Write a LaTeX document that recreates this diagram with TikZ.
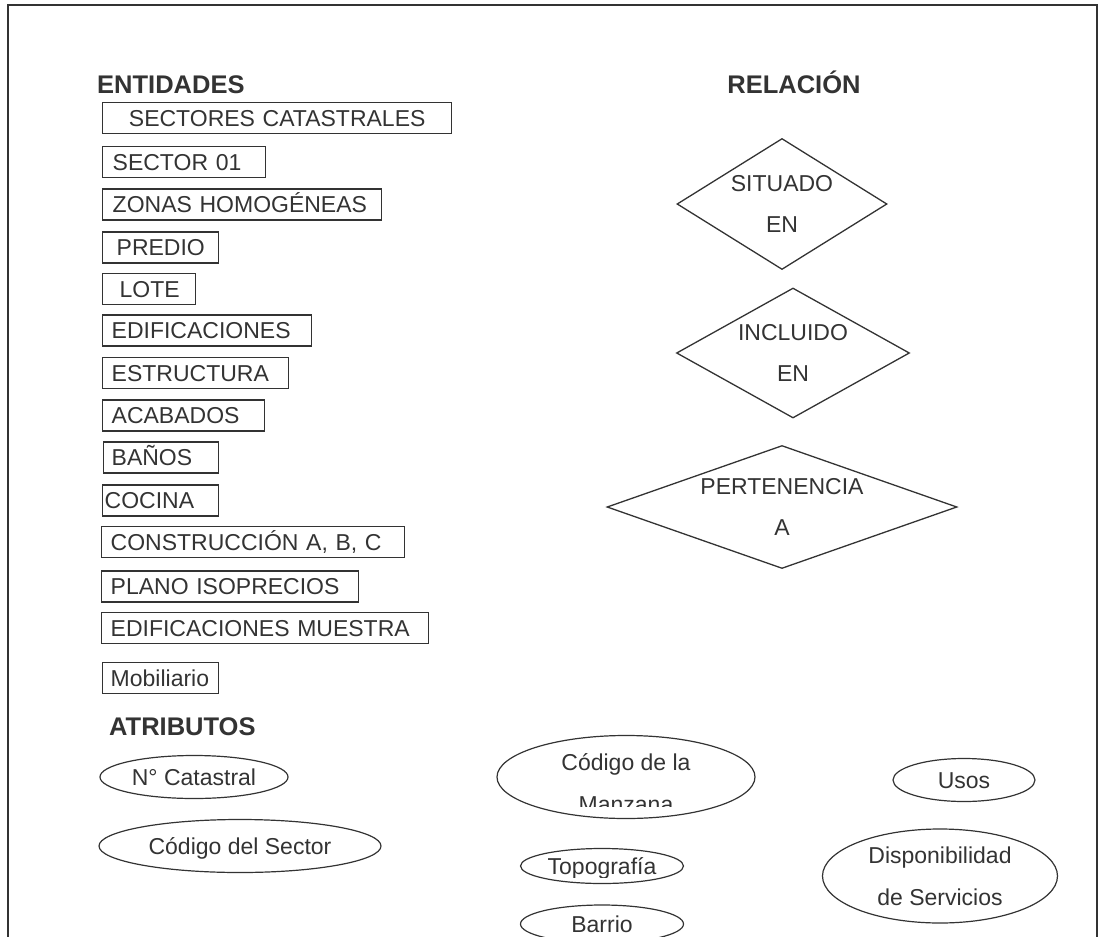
\documentclass[tikz,border=0pt]{standalone}
\usepackage{fontspec}
\setmainfont{Liberation Sans}
\usetikzlibrary{shapes.geometric}

\definecolor{ink}{RGB}{51,51,51}

\tikzset{
  ent/.style={draw=ink, line width=1.4pt, anchor=west, align=left,
    inner xsep=9pt, inner ysep=0pt, minimum height=31pt,
    text height=16pt, text depth=0pt, font=\fontsize{23}{27}\selectfont},
  rel/.style={draw=ink, line width=1.3pt, diamond, inner sep=0pt,
    align=center, font=\fontsize{23}{41}\selectfont},
  atr/.style={draw=ink, line width=1.2pt, ellipse, inner sep=0pt,
    align=center, font=\fontsize{23}{42}\selectfont},
  oneline/.style={text height=16pt, text depth=0pt},
  head/.style={inner sep=0pt, text height=18.3pt, text depth=0pt,
    font=\fontsize{25.5}{30}\selectfont\bfseries},
}

\begin{document}
\begin{tikzpicture}[x=1pt, y=-1pt, text=ink]

  \useasboundingbox (0,0) rectangle (1101,937);
  \draw[ink, line width=1.8pt] (8,945) -- (8,5) -- (1097,5) -- (1097,945);

  %% titulos
  \node[head, anchor=west] (tent) at (97,84) {ENTIDADES};
  \node[head] (trel) at (794,84) {RELACIÓN};
  \node[head, anchor=west] (tatr) at (109,726) {ATRIBUTOS};

  %% entidades
  \node[ent, align=center, text width=331pt] (sc) at (102,118) {SECTORES CATASTRALES};
  \node[ent, inner xsep=10pt, text width=143pt] (s01) at (102,162) {SECTOR 01};
  \node[ent, inner xsep=10pt, text width=259pt] (zh) at (102,204.5) {ZONAS HOMOGÉNEAS};
  \node[ent, inner xsep=14pt, text width=88pt] (pre) at (102,247.5) {PREDIO};
  \node[ent, inner xsep=17pt, text width=59pt] (lot) at (102,289) {LOTE};
  \node[ent, text width=191pt] (edi) at (102,330.5) {EDIFICACIONES};
  \node[ent, text width=168pt] (est) at (102,373) {ESTRUCTURA};
  \node[ent, text width=144pt] (aca) at (102,415.5) {ACABADOS};
  \node[ent, inner xsep=8pt, text width=99pt] (ban) at (103,457.5) {BAÑOS};
  \node[ent, inner xsep=2pt, text width=112pt] (coc) at (102,500.5) {COCINA};
  \node[ent, text width=285pt] (con) at (101,542) {CONSTRUCCIÓN A, B, C};
  \node[ent, text width=239pt] (pla) at (101,586.5) {PLANO ISOPRECIOS};
  \node[ent, text width=309pt] (edm) at (101,628) {EDIFICACIONES MUESTRA};
  \node[ent, inner xsep=8pt, text width=100pt] (mob) at (102,678) {Mobiliario};

  %% relaciones
  \node[rel, aspect=1.6, minimum width=210pt, minimum height=131pt] (sit) at (782,204) {SITUADO\\EN};
  \node[rel, aspect=1.8, minimum width=233pt, minimum height=130pt] (inc) at (793,353) {INCLUIDO\\EN};
  \node[rel, aspect=2.85, minimum width=350pt, minimum height=123pt] (per) at (782,507) {PERTENENCIA\\A};

  %% atributos
  \node[atr, oneline, minimum width=188pt, minimum height=43pt] (nc) at (194,777) {N° Catastral};
  \node[atr, oneline, minimum width=282pt, minimum height=53pt] (cs) at (240,846) {Código del Sector};
  \node[atr, minimum width=258pt, minimum height=83pt] (cm) at (626,777) {};
  \begin{scope}
    \clip (480,700) rectangle (780,806);
    \node[align=center, inner sep=0pt, font=\fontsize{23}{42}\selectfont] (cm-t) at (626,783) {Código de la\\Manzana};
  \end{scope}
  \node[atr, minimum width=163pt, minimum height=35pt] (topo) at (602,866) {};
  \begin{scope}
    \clip (500,840) rectangle (700,877);
    \node[inner sep=0pt, oneline, font=\fontsize{23}{27}\selectfont] (topo-t) at (topo) {Topografía};
  \end{scope}
  \node[atr, oneline, minimum width=163pt, minimum height=38pt] (bar) at (602,924) {Barrio};
  \node[atr, oneline, minimum width=142pt, minimum height=43pt] (uso) at (964,780) {Usos};
  \node[atr, minimum width=235pt, minimum height=94pt] (dis) at (940,876) {Disponibilidad\\de Servicios};

\end{tikzpicture}
\end{document}
